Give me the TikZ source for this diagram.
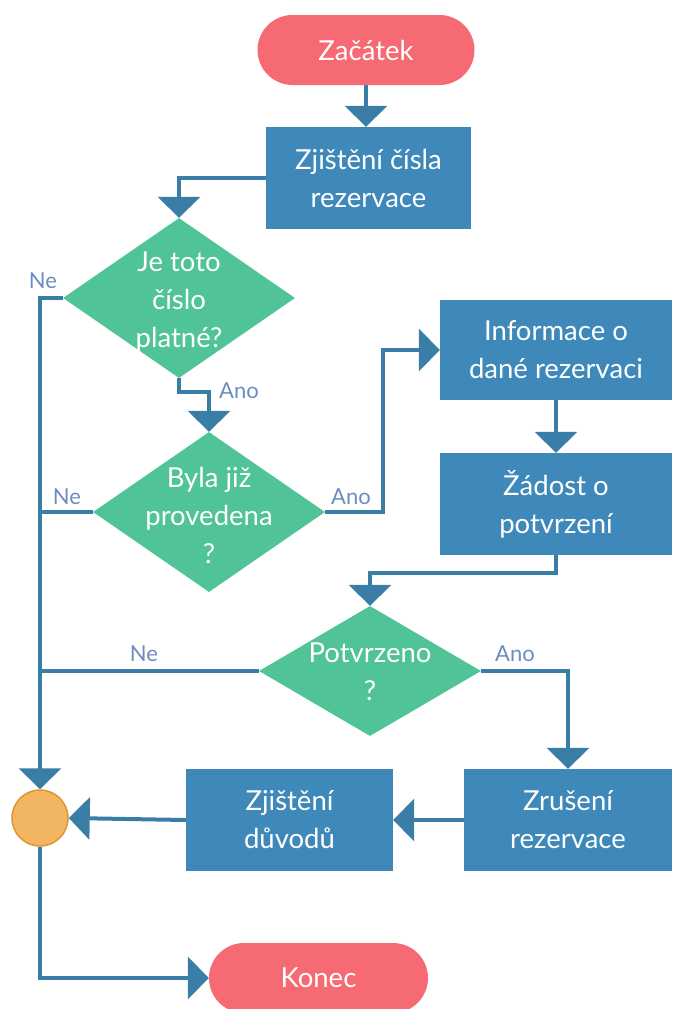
\documentclass[tikz,border=0pt]{standalone}
\usepackage{fontspec}
\setmainfont{Lato}
\usetikzlibrary{arrows.meta,shapes.geometric}
\definecolor{termred}{HTML}{F66A74}
\definecolor{procblue}{HTML}{3E89B9}
\definecolor{decgreen}{HTML}{50C496}
\definecolor{linkblue}{HTML}{3A7DA7}
\definecolor{joinfill}{HTML}{F2B662}
\definecolor{joindraw}{HTML}{DE9432}
\definecolor{labelblue}{HTML}{6B8CC3}
\tikzset{
  terminal/.style={rectangle, rounded corners=35pt, fill=termred, draw=none,
    minimum width=217pt, minimum height=70pt, inner sep=0pt, text=white,
    font=\fontsize{27.5}{38}\selectfont},
  process/.style={rectangle, fill=procblue, draw=none, inner sep=0pt,
    text=white, align=center, font=\fontsize{27.5}{38}\selectfont},
  decision/.style={diamond, fill=decgreen, draw=none, inner sep=0pt,
    aspect=1.45},
  dectext/.style={text=white, align=center, inner sep=0pt,
    font=\fontsize{27.5}{38}\selectfont},
  joint/.style={circle, fill=joinfill, draw=joindraw, line width=1.5pt,
    minimum size=56pt, inner sep=0pt},
  link/.style={draw=linkblue, line width=4pt,
    -{Triangle[width=42pt,length=21pt]}},
  plainlink/.style={draw=linkblue, line width=4pt},
  answer/.style={text=labelblue, inner sep=0pt,
    font=\fontsize{22}{24}\selectfont},
}
\begin{document}
\begin{tikzpicture}[x=1pt,y=-1pt]
  \useasboundingbox (0,0) rectangle (673,1009);

  % nodes
  \node[terminal] (start) at (366,50) {Začátek};
  \node[process, minimum width=205pt, minimum height=102pt] (b1) at (368.5,178)
    {Zjištění čísla\\rezervace};
  \node[decision, minimum width=232pt, minimum height=160pt] (d1) at (179,298) {};
  \node[dectext] (t1) at (179,302) {Je toto\\číslo\\platné?};
  \node[decision, minimum width=232pt, minimum height=160pt] (d2) at (209,512) {};
  \node[dectext] (t2) at (209,515) {Byla již\\provedena\\?};
  \node[process, minimum width=232pt, minimum height=100pt] (b2) at (556,350)
    {Informace o\\dané rezervaci};
  \node[process, minimum width=232pt, minimum height=102pt] (b3) at (556,504)
    {Žádost o\\potvrzení};
  \node[decision, minimum width=222pt, minimum height=130pt, aspect=1.7] (d3) at (370,671) {};
  \node[dectext] (t3) at (370,672) {Potvrzeno\\?};
  \node[process, minimum width=208pt, minimum height=102pt] (b4) at (568,820)
    {Zrušení\\rezervace};
  \node[process, minimum width=207pt, minimum height=102pt] (b5) at (289.5,820)
    {Zjištění\\důvodů};
  \node[joint] (join) at (40,818) {};
  \node[terminal, minimum width=219pt] (end) at (318.5,978) {Konec};

  % connectors
  \draw[link] (start.south) -- (start.south |- b1.north);
  \draw[link] (b1.west) -| (d1.north);
  \draw[link] (d1.west) -| (join.north);
  \draw[link] (d1.south) -- ++(0,14) -| (d2.north);
  \draw[plainlink] (d2.west) -- (d2.west -| join);
  \draw[link] (d2.east) -- ++(58,0) |- (b2.west);
  \draw[link] (b2.south) -- (b3.north);
  \draw[link] (b3.south) -- ++(0,18) -| (d3.north);
  \draw[plainlink] (d3.west) -- (d3.west -| join);
  \draw[link] (d3.east) -| (b4.north);
  \draw[link] (b4.west) -- (b5.east);
  \draw[link] (b5.west) -- (join.east);
  \draw[link] (join.south) |- (end.west);

  % answer labels
  \node[answer] (l1) at (43,281) {Ne};
  \node[answer] (l2) at (239,391) {Ano};
  \node[answer] (l3) at (67,497) {Ne};
  \node[answer] (l4) at (351,497) {Ano};
  \node[answer] (l5) at (144,654) {Ne};
  \node[answer] (l6) at (515,654) {Ano};
\end{tikzpicture}
\end{document}
